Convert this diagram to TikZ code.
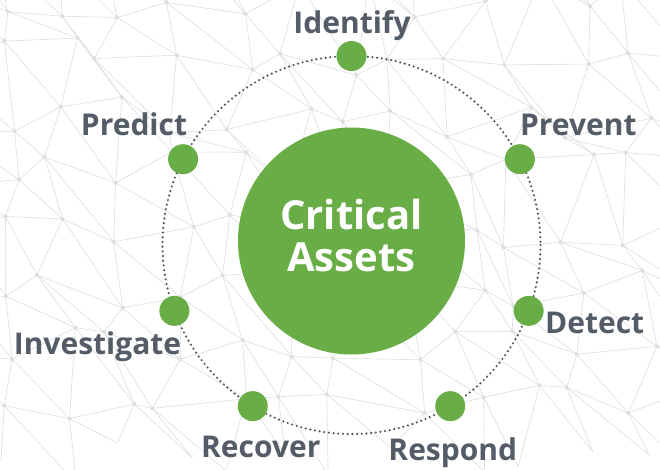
\documentclass[tikz,border=0pt]{standalone}
\usepackage{fontspec}
\setmainfont{Open Sans}
\usetikzlibrary{calc}
\definecolor{leaf}{HTML}{68AD45}
\definecolor{slate}{HTML}{545D67}
\definecolor{dotgray}{HTML}{4A5560}
\definecolor{meshgray}{HTML}{DDDEE0}
\definecolor{hazegray}{HTML}{F3F3F4}
\tikzset{
  stagedot/.style={circle,fill=leaf,draw=none,minimum size=30pt,inner sep=0pt},
  stagelabel/.style={anchor=base,text=slate,font=\fontsize{30}{36}\selectfont\bfseries,inner sep=0pt},
  corebox/.style={circle,fill=leaf,draw=none,minimum size=227pt,inner sep=0pt},
  coretext/.style={text=white,font=\fontsize{40}{42}\selectfont\bfseries,align=center,inner sep=0pt},
  ring/.style={draw=dotgray,line width=2.4pt,line cap=round,dash pattern=on 0pt off 4.7pt},
  meshline/.style={draw=meshgray,line width=0.6pt},
  meshdot/.style={circle,fill=meshgray,draw=none,minimum size=4pt,inner sep=0pt}
}
\begin{document}
\begin{tikzpicture}[x=1pt,y=-1pt]
\useasboundingbox (0,0) rectangle (660,469);
\fill[white] (0,0) rectangle (660,469);
% background mesh
\begin{scope}
\clip (0,0) rectangle (660,469);
\pgfmathsetseed{11}
\foreach \i in {-1,...,12}{
  \foreach \j in {-1,...,8}{
    \coordinate (m-\i-\j) at ({\i*58+rand*22},{\j*58+rand*22});
  }
}
\foreach \i [evaluate=\i as \ni using int(\i+1)] in {-1,...,11}{
  \foreach \j [evaluate=\j as \nj using int(\j+1)] in {-1,...,7}{
    \draw[meshline] (m-\i-\j) -- (m-\ni-\j);
    \draw[meshline] (m-\i-\j) -- (m-\i-\nj);
    \draw[meshline] (m-\i-\j) -- (m-\ni-\nj);
    \node[meshdot] at (m-\i-\j) {};
  }
}
\end{scope}
% ring
\coordinate (c) at (351.5,245);
\draw[ring] (c) circle[radius=189];
% core
\node[corebox] (core) at (351.5,241) {};
\node[coretext,anchor=base] (t1) at (351.5,229) {Critical};
\node[coretext,anchor=base] (t2) at (351.5,271) {Assets};
% stage dots (visual angle a -> polar -a because y points down)
\node[stagedot] (d1) at ($(c)+(-90:189)$) {};
\node[stagedot] (d2) at ($(c)+(-27:189)$) {};
\node[stagedot] (d3) at ($(c)+(20.4:189)$) {};
\node[stagedot] (d4) at ($(c)+(58.5:189)$) {};
\node[stagedot] (d5) at ($(c)+(121.5:189)$) {};
\node[stagedot] (d6) at ($(c)+(159.6:189)$) {};
\node[stagedot] (d7) at ($(c)+(-153:189)$) {};
% labels
\node[stagelabel] (l1) at (352,33) {Identify};
\node[stagelabel] (l2) at (578.3,135) {Prevent};
\node[stagelabel] (l3) at (594.7,333.3) {Detect};
\node[stagelabel] (l4) at (452.8,460) {Respond};
\node[stagelabel] (l5) at (260.8,457.3) {Recover};
\node[stagelabel] (l6) at (97.5,354) {Investigate};
\node[stagelabel] (l7) at (134,135) {Predict};
\end{tikzpicture}
\end{document}
